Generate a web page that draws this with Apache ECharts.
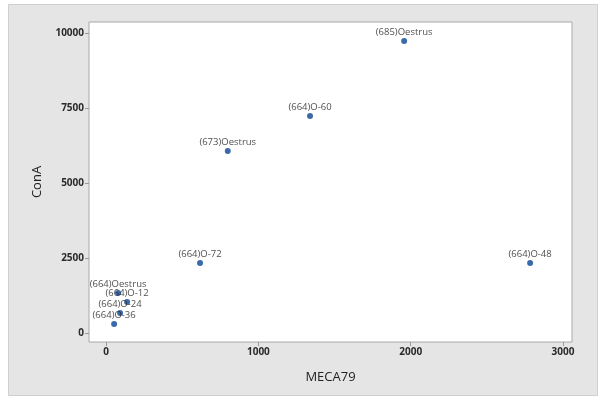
<!DOCTYPE html>
<html>
<head>
<meta charset="utf-8">
<script src="https://cdn.jsdelivr.net/npm/echarts@6/dist/echarts.min.js"></script>
<style>
  html, body { margin: 0; padding: 0; background: #fff; }
  #chart { width: 599px; height: 398px; }
</style>
</head>
<body>
<div id="chart"></div>
<script>
// Sample names, MECA79 and ConA values
const sampleNames = ['(685)Oestrus', '(664)O-60', '(673)Oestrus', '(664)O-72', '(664)O-48',
                     '(664)Oestrus', '(664)O-12', '(664)O-24', '(664)O-36'];
const meca79 = [1957, 1339, 799, 617, 2784, 79, 138, 92, 53];
const conA   = [9733, 7233, 6067, 2333, 2333, 1333, 1033, 667, 300];

const xTicks = [0, 1000, 2000, 3000];
const yTicks = [0, 2500, 5000, 7500, 10000];

const points = sampleNames.map((n, i) => ({ name: n, value: [meca79[i], conA[i]] }));

const tickLabelStyle = {
  color: '#2a2a2a', fontFamily: 'Open Sans', fontWeight: 'bold', fontSize: 10,
  formatter: v => String(v)
};

const chart = echarts.init(document.getElementById('chart'), null, { renderer: 'canvas' });
chart.setOption({
  animation: false,
  backgroundColor: '#ffffff',
  graphic: [{
    type: 'rect', z: -10, silent: true,
    shape: { x: 8.5, y: 4.5, width: 589, height: 391 },
    style: { fill: '#e5e5e5', stroke: '#cfcfcf', lineWidth: 1 }
  }],
  grid: {
    left: 89, top: 22, right: 27, bottom: 56,
    show: true, backgroundColor: '#ffffff', borderColor: '#a8a8a8', borderWidth: 1
  },
  xAxis: {
    type: 'value', min: -112, max: 3059,
    name: 'MECA79', nameLocation: 'middle', nameGap: 29,
    nameTextStyle: { color: '#222', fontFamily: 'Open Sans', fontSize: 13 },
    axisLine: { show: false, onZero: false },
    axisTick: { show: true, length: 4, lineStyle: { color: '#999' }, customValues: xTicks },
    axisLabel: Object.assign({ margin: 5, customValues: xTicks }, tickLabelStyle),
    splitLine: { show: false }
  },
  yAxis: {
    type: 'value', min: -300, max: 10367,
    name: 'ConA', nameLocation: 'middle', nameGap: 45,
    nameTextStyle: { color: '#222', fontFamily: 'Open Sans', fontSize: 13 },
    axisLine: { show: false, onZero: false },
    axisTick: { show: true, length: 4, lineStyle: { color: '#999' }, customValues: yTicks },
    axisLabel: Object.assign({ margin: 5, customValues: yTicks }, tickLabelStyle),
    splitLine: { show: false }
  },
  series: [{
    type: 'scatter',
    data: points,
    symbolSize: 6,
    itemStyle: { color: '#0a4595' },
    label: {
      show: true, position: 'top', distance: 1,
      formatter: p => p.name,
      color: '#222', fontFamily: 'Open Sans', fontSize: 9.5
    }
  }]
});
</script>
</body>
</html>
